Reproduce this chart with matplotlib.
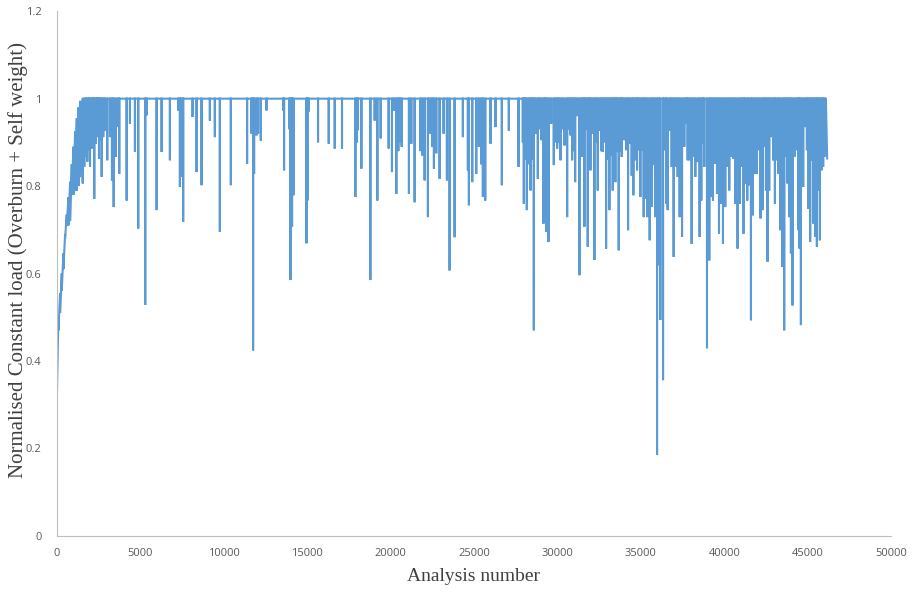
import matplotlib
matplotlib.use("Agg")
import matplotlib.pyplot as plt

# early ramp: for each analysis number the series swings between a top and a bottom value
ramp_x = [0, 100, 200, 300, 400, 500, 600, 700, 800, 900, 1000, 1100, 1200, 1300, 1400]
ramp_top = [0.42, 0.50, 0.555, 0.60, 0.646, 0.69, 0.735, 0.775, 0.81, 0.85, 0.89, 0.925, 0.955, 0.98, 0.995]
ramp_bottom = [0.30, 0.47, 0.51, 0.56, 0.61, 0.68, 0.71, 0.71, 0.72, 0.78, 0.78, 0.79, 0.79, 0.80, 0.82]

# after the ramp the load sits at 1 and drops at single analyses
dip_x = [
    1556, 1652, 1754, 1832, 1933, 1993, 2095, 2170, 2250, 2334, 2412, 2470, 2532, 2610, 2693, 2789, 2891,
    3028, 3190, 3310, 3411, 3531, 3687, 3747, 4190, 4387, 4686, 4884, 5303, 5387, 5985, 6284, 6781,
    7278, 7380, 7481, 7577, 8140, 8379, 8678, 9175, 9474, 9773, 10432, 11407, 11671, 11767, 11826,
    11970, 12066, 12227, 12568, 13562, 13622, 13945, 14005, 14101, 14184, 14963, 15022, 15082, 15657,
    16297, 16657, 17093, 17895, 17991, 18051, 18254, 18793, 19050, 19212, 19409, 19888, 20086, 20206,
    20349, 20469, 20547, 20667, 21103, 21247, 21444, 21785, 21905, 22043, 22240, 22384, 22504, 22600,
    22743, 22941, 23180, 23378, 23539, 23839, 24335, 24635, 24695, 24898, 25137, 25293, 25436, 25532,
    25676, 25993, 26292, 26669, 27088, 27669, 27926, 27986, 28070, 28166, 28286, 28387, 28489, 28585,
    28687, 28825, 28926, 29028, 29166, 29244, 29327, 29465, 29626, 29782, 29884, 29985, 30081, 30183,
    30303, 30422, 30584, 30680, 30782, 30883, 30979, 31063, 31182, 31320, 31457, 31559, 31619, 31721,
    31816, 31918, 31978, 32098, 32217, 32319, 32415, 32517, 32618, 32714, 32816, 32918, 33013, 33115,
    33217, 33313, 33415, 33474, 33576, 33672, 33774, 33851, 33893, 34013, 34133, 34234, 34331, 34450,
    34552, 34672, 34773, 34869, 34971, 35091, 35169, 35288, 35390, 35528, 35648, 35749, 35851, 35970,
    36066, 36168, 36329, 36407, 36509, 36605, 36748, 36844, 36964, 37084, 37204, 37323, 37467, 37604,
    37724, 37802, 37922, 38041, 38161, 38263, 38400, 38520, 38622, 38723, 38801, 38962, 39100, 39202,
    39321, 39441, 39561, 39681, 39800, 39920, 40058, 40177, 40297, 40398, 40536, 40656, 40794, 40937,
    41057, 41153, 41255, 41375, 41476, 41596, 41692, 41812, 41931, 42051, 42171, 42291, 42392, 42494,
    42590, 42691, 42811, 42931, 43032, 43128, 43248, 43349, 43487, 43589, 43690, 43786, 43888, 43990,
    44086, 44205, 44325, 44445, 44505, 44589, 44727, 44846, 44948, 45044, 45145, 45247, 45343, 45444,
    45546, 45624, 45726, 45822, 45924, 46002, 46085,
]
dip_y = [
    0.806, 0.844, 0.867, 0.856, 0.882, 0.844, 0.886, 0.90, 0.771, 0.897, 0.912, 0.93, 0.863, 0.905, 0.821, 0.912, 0.927,
    0.859, 0.912, 0.813, 0.752, 0.867, 0.935, 0.828, 0.767, 0.943, 0.878, 0.703, 0.528, 0.962, 0.745, 0.878, 0.859,
    0.973, 0.798, 0.821, 0.718, 0.958, 0.832, 0.802, 0.95, 0.912, 0.695, 0.802, 0.851, 0.92, 0.424, 0.828,
    0.916, 0.92, 0.904, 0.973, 0.973, 0.836, 0.93, 0.585, 0.707, 0.779, 0.669, 0.767, 0.97, 0.90,
    0.897, 0.886, 0.886, 0.775, 0.90, 0.928, 0.84, 0.585, 0.95, 0.767, 0.909, 0.886, 0.832, 0.973,
    0.782, 0.88, 0.90, 0.89, 0.782, 0.897, 0.763, 0.88, 0.87, 0.813, 0.729, 0.92, 0.89, 0.84,
    0.875, 0.817, 0.92, 0.813, 0.607, 0.683, 0.912, 0.836, 0.756, 0.809, 0.828, 0.89, 0.85, 0.775,
    0.767, 0.897, 0.935, 0.802, 0.927, 0.844, 0.90, 0.76, 0.86, 0.745, 0.85, 0.79, 0.86, 0.47,
    0.92, 0.817, 0.93, 0.905, 0.714, 0.86, 0.695, 0.672, 0.943, 0.848, 0.90, 0.886, 0.90, 0.859,
    0.93, 0.893, 0.729, 0.93, 0.916, 0.859, 0.88, 0.809, 0.96, 0.596, 0.867, 0.95, 0.707, 0.93,
    0.661, 0.90, 0.836, 0.92, 0.631, 0.90, 0.79, 0.927, 0.88, 0.878, 0.90, 0.657, 0.86, 0.745,
    0.87, 0.79, 0.86, 0.809, 0.88, 0.653, 0.88, 0.867, 0.99, 0.905, 0.882, 0.699, 0.897, 0.824,
    0.779, 0.859, 0.836, 0.882, 0.775, 0.882, 0.729, 0.771, 0.729, 0.676, 0.752, 0.848, 0.729, 0.185,
    0.619, 0.494, 0.356, 0.882, 0.76, 0.745, 0.927, 0.844, 0.638, 0.844, 0.821, 0.729, 0.684, 0.89,
    0.943, 0.859, 0.859, 0.668, 0.867, 0.821, 0.855, 0.684, 0.767, 0.897, 0.844, 0.429, 0.63, 0.775,
    0.767, 0.851, 0.782, 0.691, 0.76, 0.668, 0.752, 0.844, 0.79, 0.867, 0.863, 0.76, 0.657, 0.76,
    0.844, 0.691, 0.806, 0.767, 0.802, 0.493, 0.733, 0.828, 0.828, 0.882, 0.726, 0.745, 0.89, 0.79,
    0.627, 0.79, 0.912, 0.859, 0.76, 0.859, 0.828, 0.699, 0.615, 0.47, 0.867, 0.806, 0.729, 0.646,
    0.527, 0.867, 0.882, 0.699, 0.657, 0.482, 0.798, 0.935, 0.882, 0.748, 0.672, 0.859, 0.714, 0.684,
    0.661, 0.79, 0.676, 0.836, 0.844, 0.867, 0.912,
]
last_x, last_y = 46163, 0.863

# build the line: each ramp step drops from top to bottom, each dip leaves 1 and comes back
xs, ys = [], []
for x, t, b in zip(ramp_x, ramp_top, ramp_bottom):
    xs += [x, x + 1]
    ys += [t, b]
for x, y in zip(dip_x, dip_y):
    xs += [x - 1, x, x + 1]
    ys += [1, y, 1]
xs.append(last_x)
ys.append(last_y)

fig = plt.figure(figsize=(9.15, 5.92), dpi=100)
ax = fig.add_axes([0.062, 0.095, 0.912, 0.886])
ax.plot(xs, ys, color="#5b9bd5", linewidth=1.5, solid_joinstyle="miter")

ax.set_xlim(0, 50000)
ax.set_ylim(0, 1.2)
ax.set_xticks(range(0, 50001, 5000))
ax.set_yticks([0, 0.2, 0.4, 0.6, 0.8, 1.0, 1.2])
ax.set_yticklabels(["0", "0.2", "0.4", "0.6", "0.8", "1", "1.2"])
ax.tick_params(length=0, labelsize=8, labelcolor="#595959")
ax.tick_params(axis="y", pad=11)
ax.tick_params(axis="x", pad=9)
for lab in ax.get_xticklabels() + ax.get_yticklabels():
    lab.set_family("Open Sans")

for s in ["top", "right"]:
    ax.spines[s].set_visible(False)
for s in ["left", "bottom"]:
    ax.spines[s].set_color("#bfbfbf")
    ax.spines[s].set_linewidth(0.8)

ax.set_xlabel("Analysis number", family="Liberation Serif", fontsize=14, color="#404040", labelpad=6)
ax.set_ylabel("Normalised Constant load (Overburn + Self weight)", family="Liberation Serif",
              fontsize=15, color="#404040")
ax.yaxis.set_label_coords(-0.035, 0.525)

fig.savefig("out.png", dpi=100)
plt.close()
